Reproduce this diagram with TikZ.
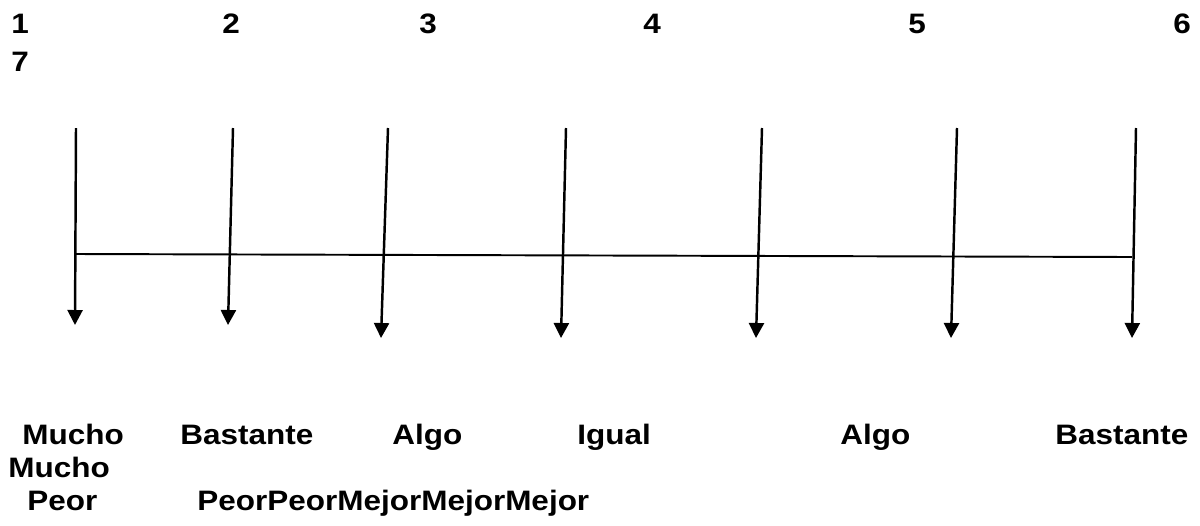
\documentclass[tikz,border=0pt]{standalone}
\usepackage{fontspec}
\setmainfont{Liberation Sans}[FakeStretch=1.12]
\usetikzlibrary{arrows.meta}

\begin{document}
\begin{tikzpicture}[
    x=0.02cm, y=-0.02cm,
    font=\bfseries\fontsize{16}{19}\selectfont,
    % scale marks and labels
    num/.style={anchor=base west, inner sep=0pt},
    lbl/.style={anchor=base west, inner sep=0pt},
    % arrows and axis
    tick/.style={line width=1.4pt, -{Triangle[length=0.3cm,width=0.3cm]}},
    axis/.style={line width=1.1pt}
]
\useasboundingbox (0,0) rectangle (1200,525);

% ===============================
% Numbers on top
% ===============================
\foreach \n/\x in {1/11, 2/222, 3/419, 4/643, 5/908, 6/1173}
    \node[num] (n\n) at (\x,33) {\n};
\node[num] (n7) at (11,71) {7};

% ===============================
% Arrows and axis line
% ===============================
\foreach \i/\xt/\xb/\yb in {1/76/75/325, 2/233/228/325, 3/388/381/338, 4/566/561/338,
                            5/762/756/338, 6/957/951/338, 7/1136/1132/338} {
    \coordinate (top\i) at (\xt,128);
    \coordinate (tip\i) at (\xb,\yb);
    \draw[tick] (top\i) -- (tip\i);
}
\coordinate (axL) at (76,254);
\coordinate (axR) at (1132,257);
\draw[axis] (axL) -- (axR);

% ===============================
% Labels below
% ===============================
\node[lbl] (l1) at (22,444) {Mucho};
\node[lbl] (l2) at (180,444) {Bastante};
\node[lbl] (l3) at (392,444) {Algo};
\node[lbl] (l4) at (577,444) {Igual};
\node[lbl] (l5) at (840,444) {Algo};
\node[lbl] (l6) at (1055,444) {Bastante};
\node[lbl] (l7) at (8,477) {Mucho};
\node[lbl] (p1) at (27,510) {Peor};
\node[lbl] (p2) at (197,510) {PeorPeorMejorMejorMejor};

\end{tikzpicture}
\end{document}
